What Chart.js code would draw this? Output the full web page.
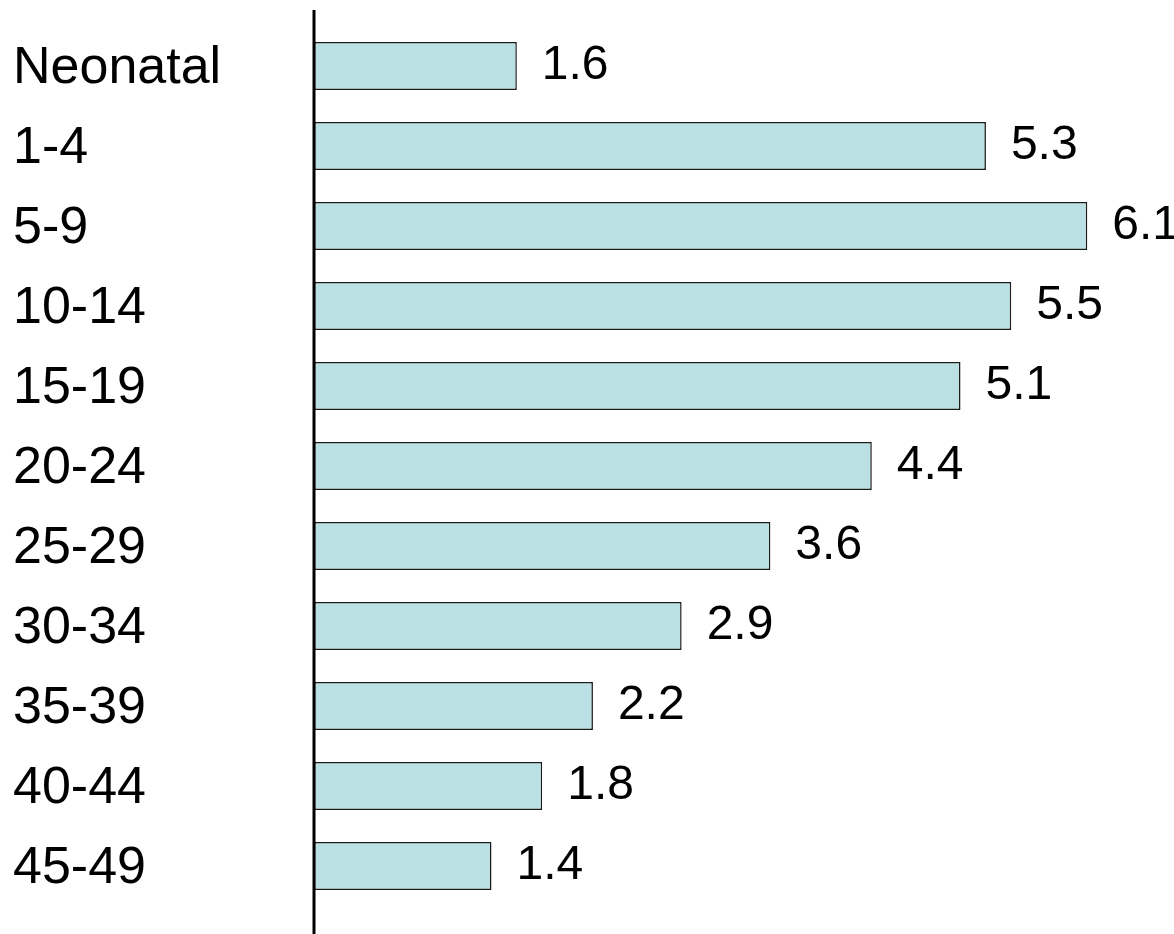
<!DOCTYPE html>
<html>
<head>
<meta charset="utf-8">
<script src="https://cdn.jsdelivr.net/npm/chart.js@4.4.0/dist/chart.umd.min.js"></script>
<style>
  html, body { margin: 0; padding: 0; background: #fff; }
  #wrap { width: 1174px; height: 934px; }
</style>
</head>
<body>
<div id="wrap"><canvas id="chart" width="1174" height="934"></canvas></div>
<script>
// age groups and values
const ageGroups = ['Neonatal', '1-4', '5-9', '10-14', '15-19', '20-24', '25-29', '30-34', '35-39', '40-44', '45-49'];
const rates = [1.6, 5.3, 6.1, 5.5, 5.1, 4.4, 3.6, 2.9, 2.2, 1.8, 1.4];
const xRange = [0, 6.5];

const FONT = '"Liberation Sans", Arial, sans-serif';

// vertical axis line that runs past the first and last bar
const axisLine = {
  id: 'axisLine',
  afterDatasetsDraw(chart) {
    const ctx = chart.ctx;
    const x = chart.scales.x.getPixelForValue(0);
    ctx.save();
    ctx.strokeStyle = '#000';
    ctx.lineWidth = 3;
    ctx.beginPath();
    ctx.moveTo(x, 10);
    ctx.lineTo(x, chart.height);
    ctx.stroke();
    ctx.restore();
  }
};

// numbers to the right of each bar
const valueLabels = {
  id: 'valueLabels',
  afterDatasetsDraw(chart) {
    const ctx = chart.ctx;
    const meta = chart.getDatasetMeta(0);
    ctx.save();
    ctx.font = '48px ' + FONT;
    ctx.fillStyle = '#000';
    ctx.textAlign = 'left';
    ctx.textBaseline = 'middle';
    meta.data.forEach((bar, i) => {
      ctx.fillText(rates[i].toFixed(1), bar.x + 25, bar.y);
    });
    ctx.restore();
  }
};

new Chart(document.getElementById('chart').getContext('2d'), {
  type: 'bar',
  data: {
    labels: ageGroups,
    datasets: [{
      data: rates,
      backgroundColor: '#bbe0e3',
      borderColor: '#1a1a1a',
      borderWidth: 1.5,
      borderSkipped: false,
      categoryPercentage: 0.6,
      barPercentage: 1
    }]
  },
  options: {
    indexAxis: 'y',
    responsive: false,
    animation: false,
    layout: { padding: { left: 13, right: 36, top: 26, bottom: 28 } },
    plugins: {
      legend: { display: false },
      tooltip: { enabled: false }
    },
    scales: {
      x: {
        display: false,
        min: xRange[0],
        max: xRange[1]
      },
      y: {
        grid: { display: false, drawTicks: false },
        border: { display: false },
        afterFit(s) {
          s.width = 301;
          s.paddingTop = 0;
          s.paddingBottom = 0;
        },
        ticks: {
          crossAlign: 'far',
          padding: 0,
          labelOffset: 3,
          color: '#000',
          font: { family: FONT, size: 52 }
        }
      }
    }
  },
  plugins: [axisLine, valueLabels]
});
</script>
</body>
</html>
